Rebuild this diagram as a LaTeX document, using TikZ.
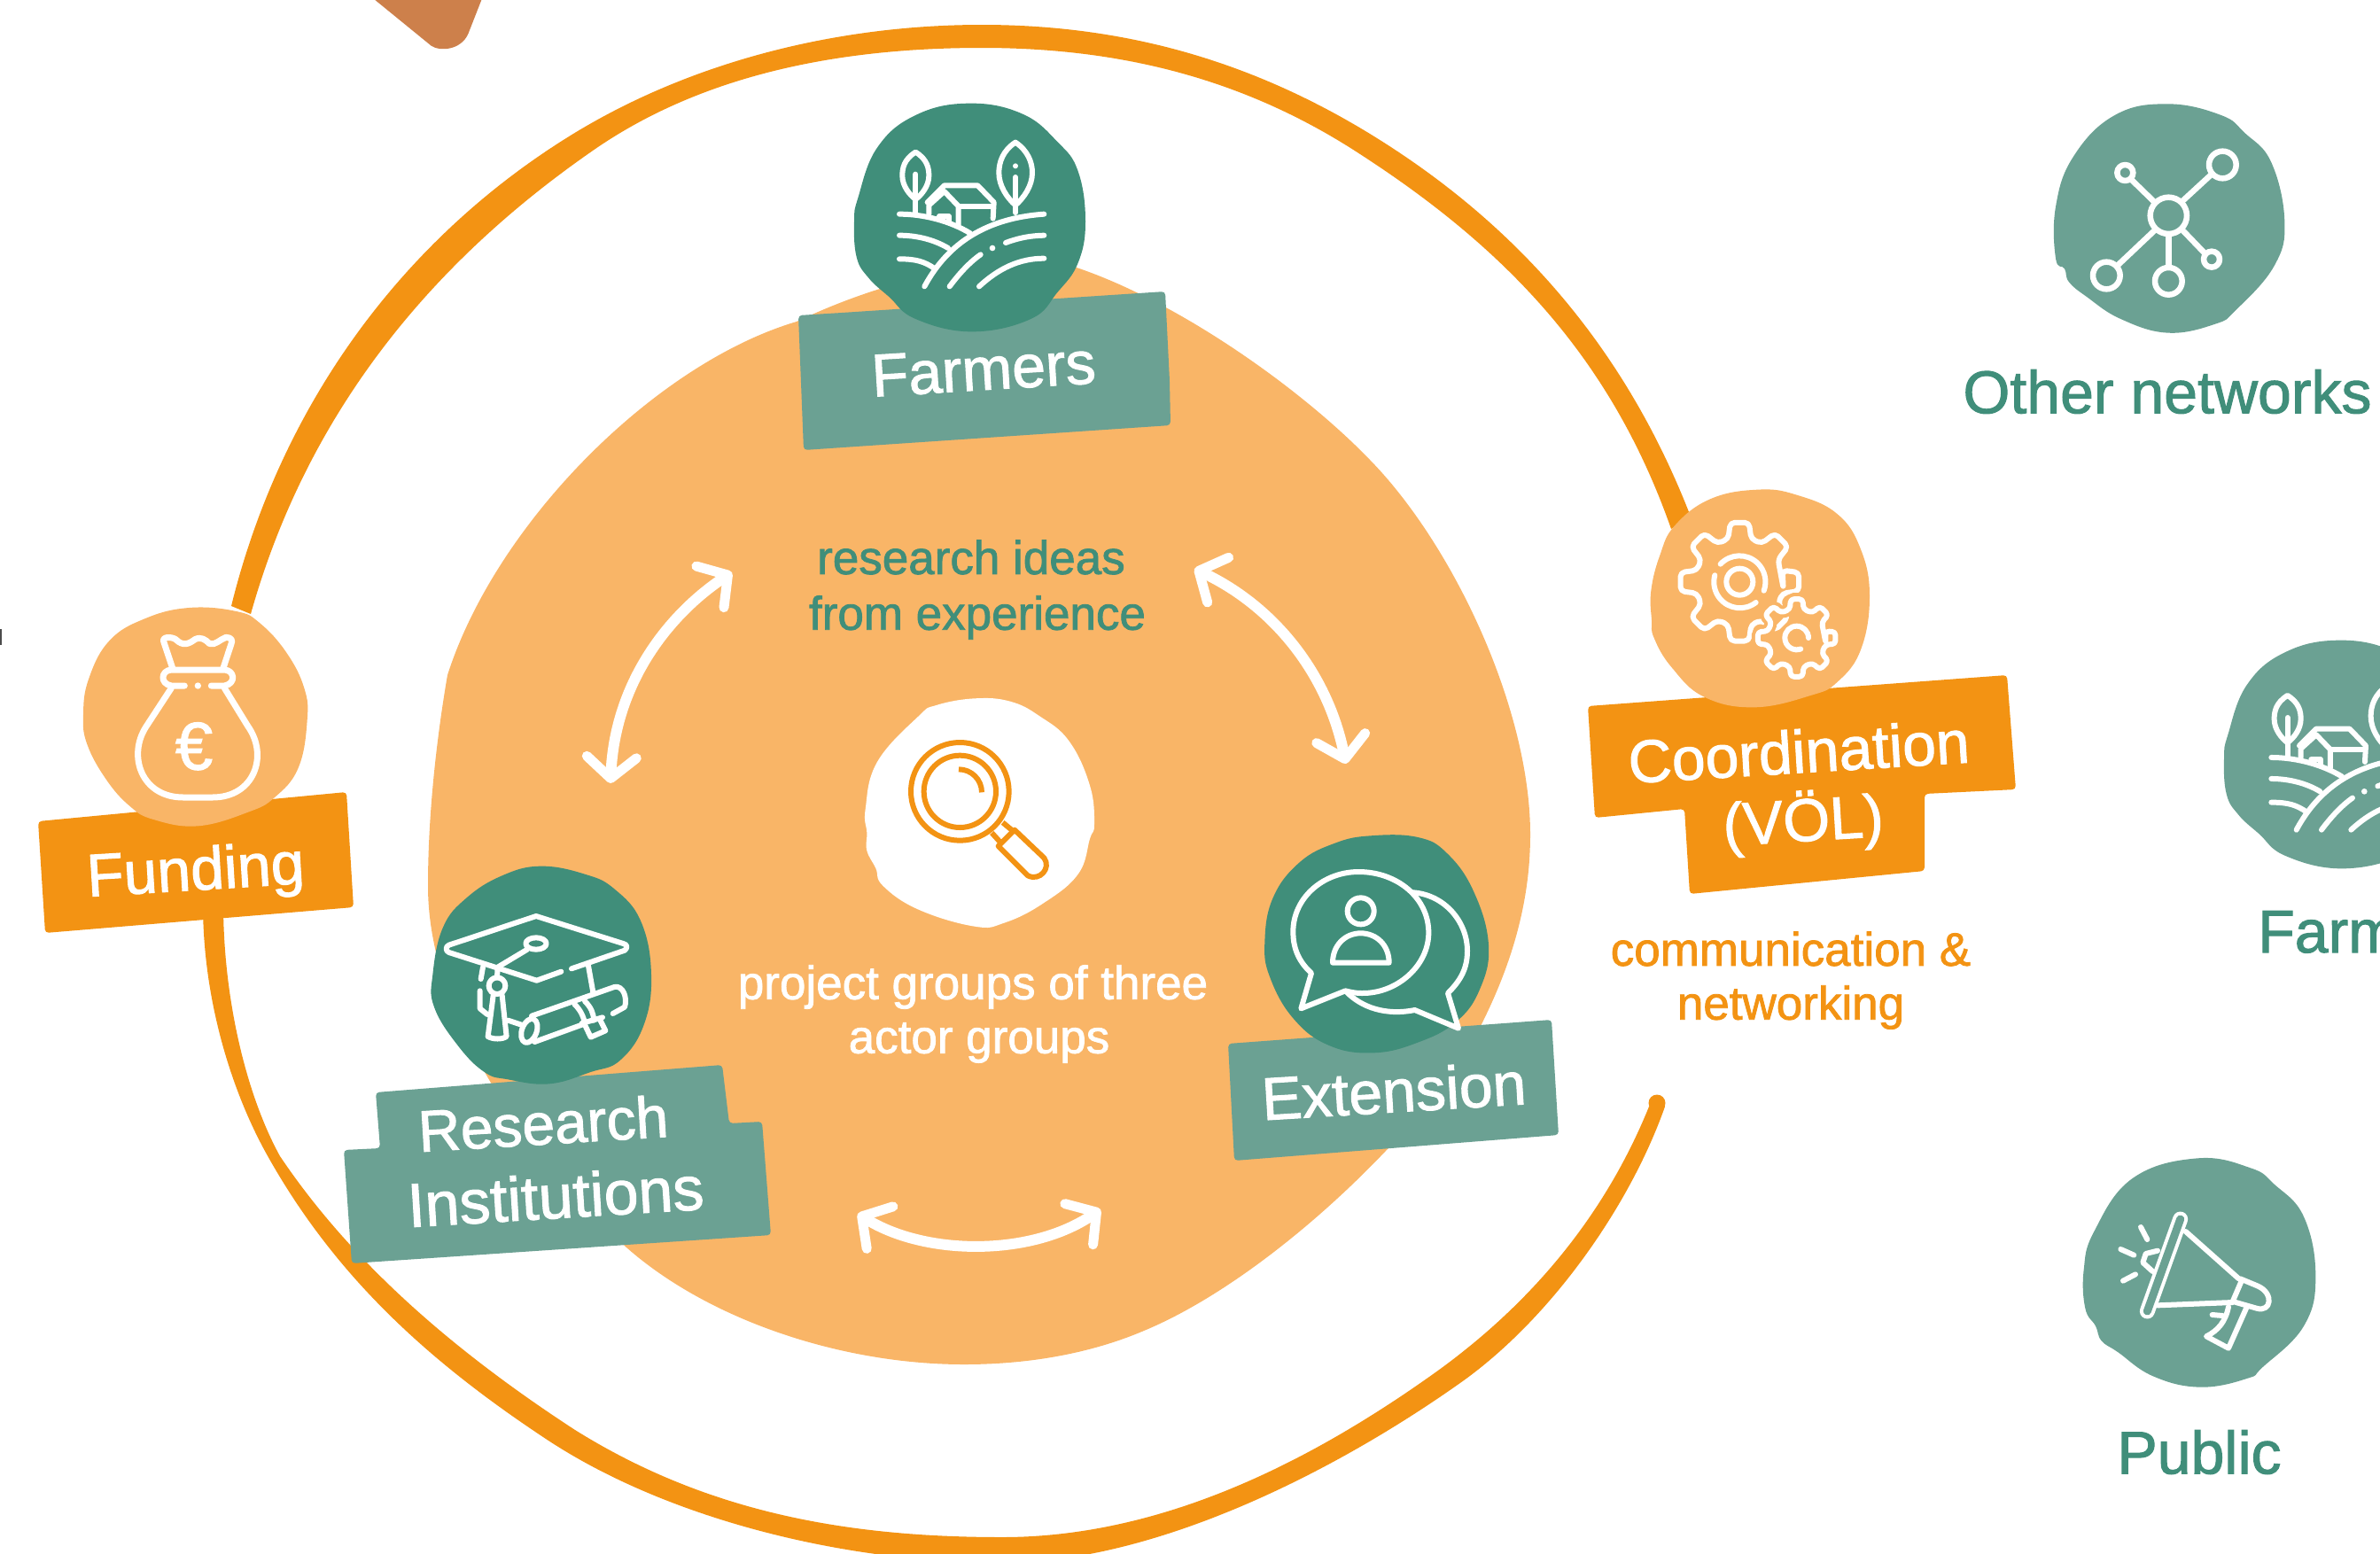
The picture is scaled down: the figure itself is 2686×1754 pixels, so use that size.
\documentclass[tikz,border=0pt]{standalone}
\usepackage{fontspec}
\setmainfont[FakeBold=1.5]{Liberation Sans}
\usetikzlibrary{arrows.meta}
\definecolor{dgreen}{HTML}{408E7A}
\definecolor{lgreen}{HTML}{6BA193}
\definecolor{orng}{HTML}{F39313}
\definecolor{lorng}{HTML}{F9B567}
\definecolor{copper}{HTML}{CD804B}
\tikzset{
  zoomat/.style 2 args={xshift=#1pt,yshift=-#2pt,x=0.33333pt,y=-0.33333pt},
  iconline/.style={draw=white,line width=6pt,line cap=round,line join=round,fill=none},
  lab/.style={text=white,font=\fontsize{68}{70}\selectfont,inner sep=0pt,rotate=3.5},
  captext/.style={font=\fontsize{53}{56}\selectfont,inner sep=0pt},
  outertext/.style={text=dgreen,font=\fontsize{68}{72}\selectfont,inner sep=0pt},
  twoway/.style={draw=white,line width=12pt,line cap=round,
    {Straight Barb[length=24pt,width=56pt,line width=11pt,round]}-{Straight Barb[length=24pt,width=56pt,line width=11pt,round]}},
  tagbox/.style={rounded corners=4pt}
}
\newcommand{\blobshape}[2]{\fill[#1] plot[smooth cycle,tension=0.7] coordinates {#2};}
\newcommand{\farmblob}[1]{\blobshape{#1}{(580,80)(760,115)(880,210)(950,310)(975,480)(950,620)(880,720)(790,810)(590,853)(400,810)(310,735)(240,670)(200,600)(192,480)(205,400)(270,230)(400,120)}}
\newcommand{\farmicon}{%
  \draw[iconline] (400,245) .. controls (360,270) and (355,300) .. (355,325) .. controls (355,360) and (380,390) .. (400,405) .. controls (420,390) and (445,360) .. (445,325) .. controls (445,300) and (440,270) .. (400,245) -- cycle;
  \draw[iconline] (400,320) -- (400,450);
  \draw[iconline] (738,212) .. controls (695,240) and (682,280) .. (682,315) .. controls (682,360) and (710,400) .. (738,425) .. controls (766,400) and (795,360) .. (795,315) .. controls (795,280) and (780,240) .. (738,212) -- cycle;
  \draw[iconline] (738,330) -- (738,450);
  \fill[white] (738,292) circle (9);
  \draw[iconline] (345,455) .. controls (430,455) and (520,480) .. (585,520);
  \draw[iconline] (430,700) .. controls (500,570) and (620,470) .. (835,455);
  \draw[iconline] (345,527) .. controls (400,527) and (460,540) .. (510,570);
  \draw[iconline] (345,607) .. controls (400,607) and (430,615) .. (465,640);
  \draw[iconline] (705,552) .. controls (750,535) and (790,528) .. (835,527);
  \draw[iconline] (615,700) .. controls (680,640) and (750,605) .. (835,605);
  \draw[iconline] (515,700) .. controls (545,660) and (580,620) .. (620,592);
  \fill[white] (660,570) circle (10);
  \draw[iconline] (440,415) -- (497,358) -- (610,358) -- (665,415) -- (662,470);
  \draw[iconline] (445,455) -- (445,425) -- (497,378) -- (545,428) -- (545,490);
  \draw[iconline] (545,428) -- (660,428);
  \draw[iconline] (480,462) -- (512,462) -- (512,482);
}
\begin{document}
\begin{tikzpicture}[x=1pt,y=-1pt]
\useasboundingbox (0,0) rectangle (2686,1754);
\clip (0,0) rectangle (2686,1754);
% copper corner
\begin{scope}[zoomat={380}{0}]
\fill[copper] (130,0) -- (320,155) .. controls (350,175) and (420,170) .. (445,115) -- (490,0) -- cycle;
\end{scope}
\fill[black!70] (0,710) rectangle (1.5,728);
% central orange shape
\fill[lorng] (1212,301) .. controls (1330,340) and (1470,440) .. (1546,519)
 .. controls (1640,615) and (1727,800) .. (1727,942)
 .. controls (1727,1020) and (1705,1090) .. (1672,1156)
 .. controls (1620,1260) and (1440,1440) .. (1291,1502)
 .. controls (1230,1528) and (1160,1540) .. (1088,1540)
 .. controls (950,1540) and (800,1490) .. (707,1408)
 .. controls (600,1310) and (483,1150) .. (483,1000)
 .. controls (483,910) and (495,820) .. (505,762)
 .. controls (560,590) and (740,410) .. (899,363)
 .. controls (1000,315) and (1110,290) .. (1212,301) -- cycle;
% ring, upper part
\fill[orng] (261,684) .. controls (316,461) and (451,271) .. (647,151)
 .. controls (783,68) and (948,28) .. (1108,28)
 .. controls (1268,28) and (1410,68) .. (1546,151)
 .. controls (1716,255) and (1836,397) .. (1908,583)
 -- (1886,597)
 .. controls (1820,409) and (1705,284) .. (1535,174)
 .. controls (1405,89) and (1265,54) .. (1108,54)
 .. controls (950,54) and (794,83) .. (669,170)
 .. controls (480,301) and (345,472) .. (283,693) -- cycle;
% ring, lower part
\fill[orng] (1861,1249)
 .. controls (1810,1375) and (1724,1476) .. (1613,1554)
 .. controls (1470,1655) and (1306,1735) .. (1131,1735)
 .. controls (956,1735) and (798,1707) .. (649,1614)
 .. controls (520,1530) and (400,1430) .. (316,1305)
 .. controls (279,1238) and (252,1130) .. (252,1020)
 -- (229,1020)
 .. controls (229,1130) and (262,1232) .. (300,1301)
 .. controls (377,1440) and (483,1536) .. (616,1624)
 .. controls (750,1713) and (950,1764) .. (1131,1764)
 .. controls (1300,1764) and (1500,1665) .. (1645,1563)
 .. controls (1750,1490) and (1840,1360) .. (1879,1249) -- cycle;
\fill[orng] (1870,1245) circle (9.5);
% arrows
\coordinate (a1s) at (689,884); \coordinate (a1e) at (826,646);
\coordinate (a2s) at (1348,642); \coordinate (a2e) at (1519,862);
\coordinate (a3s) at (968,1370); \coordinate (a3e) at (1242,1365);
\draw[twoway] (a1s) .. controls (694,771) and (754,694) .. (a1e);
\draw[twoway] (a2s) .. controls (1439,685) and (1499,762) .. (a2e);
\draw[twoway] (a3s) .. controls (1045,1418) and (1165,1418) .. (a3e);
% tags
\fill[lgreen,tagbox] (901,356) -- (950,353) -- (1315,329) -- (1320,430) -- (1321,480) -- (907,508) -- cycle;
\fill[lgreen,tagbox] (424,1233) -- (815,1202) -- (823,1268) -- (860,1266) -- (870,1394) -- (397,1426) -- (388,1298) -- (429,1296) -- cycle;
\fill[lgreen,tagbox] (1386,1178) -- (1751,1151) -- (1759,1281) -- (1393,1310) -- cycle;
\fill[orng,tagbox] (43,927) -- (391,894) -- (399,1024) -- (51,1053) -- cycle;
\fill[orng,tagbox] (1792,797) -- (2265,762) -- (2275,891) -- (2172,896) -- (2172,983) -- (1907,1009) -- (1901,913) -- (1800,923) -- cycle;
% Farmers
\begin{scope}[zoomat={900}{90}]
\farmblob{dgreen}
\farmicon
\end{scope}
% Research
\begin{scope}[zoomat={460}{960}]
\blobshape{dgreen}{(450,53)(600,80)(700,130)(790,240)(825,420)(800,590)(720,710)(620,750)(480,790)(340,775)(260,750)(170,660)(90,530)(85,420)(120,260)(200,160)(320,85)}
\draw[iconline] (555,400) -- (735,338) .. controls (745,330) and (745,318) .. (730,315) -- (435,222) -- (140,320) .. controls (128,325) and (128,340) .. (140,345) -- (437,440) -- (520,410);
\draw[iconline] (435,315) ellipse (35 and 20);
\draw[iconline] (405,335) -- (305,395) -- (303,430);
\draw[iconline] (303,458) circle (28);
\draw[iconline] (290,490) -- (272,630) .. controls (290,640) and (320,640) .. (335,630) -- (320,490);
\draw[iconline] (255,395) -- (248,435);
\draw[iconline] (245,475) -- (245,535) -- (270,555);
\draw[iconline] (612,390) -- (628,480);
\draw[iconline] (420,560) -- (700,462) .. controls (730,455) and (745,500) .. (735,530) -- (695,552);
\draw[iconline] (430,648) -- (590,590);
\draw[iconline,rotate around={-20:(412,610)}] (412,610) ellipse (25 and 42);
\draw[iconline] (565,520) .. controls (585,540) and (595,560) .. (600,585);
\draw[iconline] (600,510) .. controls (620,530) and (630,550) .. (630,575);
\draw[iconline] (590,585) -- (660,565);
\draw[iconline] (600,590) -- (620,632) -- (670,610) -- (650,570);
\draw[iconline] (340,575) -- (385,590);
\end{scope}
% Extension
\begin{scope}[zoomat={1400}{920}]
\blobshape{dgreen}{(440,70)(600,75)(700,130)(790,260)(840,440)(810,590)(730,700)(600,770)(450,805)(300,780)(180,690)(100,550)(82,430)(110,280)(200,160)(320,95)}
\draw[iconline] (240,535) .. controls (190,490) and (178,440) .. (178,395) .. controls (178,280) and (280,192) .. (400,192) .. controls (530,192) and (637,280) .. (637,398) .. controls (637,510) and (530,605) .. (410,603) .. controls (390,603) and (375,600) .. (355,595) -- (205,655) -- cycle;
\draw[iconline] (585,262) .. controls (690,270) and (768,360) .. (768,460) .. controls (768,520) and (745,560) .. (702,603) -- (738,722) -- (590,660) .. controls (490,680) and (410,650) .. (360,600);
\draw[iconline] (407,325) circle (45);
\draw[iconline] (312,500) .. controls (312,440) and (355,400) .. (407,400) .. controls (460,400) and (503,440) .. (503,500) -- cycle;
\end{scope}
% Funding
\begin{scope}[zoomat={80}{680}]
\blobshape{lorng}{(400,18)(560,30)(640,70)(730,170)(790,290)(800,400)(770,560)(690,660)(600,710)(430,757)(280,735)(200,690)(120,600)(55,480)(42,380)(60,260)(130,130)(250,55)}
\begin{scope}[iconline/.append style={line width=7pt}]
\draw[iconline] (345,225) -- (315,135) .. controls (305,115) and (340,115) .. (355,125) .. controls (380,150) and (400,140) .. (420,125) .. controls (440,115) and (455,125) .. (470,140) .. controls (490,145) and (505,125) .. (525,118) .. controls (545,118) and (548,130) .. (543,140) -- (515,225);
\draw[iconline] (385,282) -- (340,282) .. controls (300,275) and (305,230) .. (340,228) -- (520,228) .. controls (555,230) and (560,275) .. (520,282) -- (475,282);
\draw[iconline] (340,290) -- (255,420) .. controls (190,520) and (240,660) .. (380,660) -- (480,660) .. controls (620,660) and (670,520) .. (600,420) -- (520,290);
\end{scope}
\fill[white] (430,282) circle (11);
\node[inner sep=0pt,text=white,font=\fontsize{76}{76}\selectfont] (euro) at (417,487) {€};
\end{scope}
% Coordination
\begin{scope}[zoomat={1840}{540}]
\blobshape{lorng}{(430,38)(560,55)(700,120)(780,240)(810,400)(780,580)(700,690)(610,735)(420,775)(250,740)(140,640)(80,540)(72,480)(70,380)(100,260)(150,160)(270,70)}
\begin{scope}[shift={(370,350)}]
\draw[iconline,rounded corners=5pt] (9:150)
 \foreach \t in {0,45,...,315}{
  -- (\t-15:150) -- (\t-9:203) -- (\t+9:203) -- (\t+15:150)
 } -- cycle;
\draw[iconline] (0,0) circle (45);
\draw[iconline] (-65,-60) arc (-137:20:88);
\draw[iconline] (55,70) arc (52:195:88);
\end{scope}
\begin{scope}[shift={(563,540)}]
\draw[lorng,line width=14pt,rounded corners=4pt] (10:100)
 \foreach \t in {0,45,...,315}{
  -- (\t-13:100) -- (\t-9:133) -- (\t+9:133) -- (\t+13:100)
 } -- cycle;
\draw[iconline,rounded corners=4pt] (10:100)
 \foreach \t in {0,45,...,315}{
  -- (\t-13:100) -- (\t-9:133) -- (\t+9:133) -- (\t+13:100)
 } -- cycle;
\draw[iconline] (40,0) arc (0:-290:40);
\end{scope}
\end{scope}
% Magnifier
\begin{scope}[zoomat={960}{780}]
\blobshape{white}{(420,25)(540,35)(640,85)(740,170)(810,320)(825,450)(810,500)(770,620)(650,720)(520,785)(420,797)(230,740)(110,660)(85,600)(55,540)(55,480)(50,400)(90,240)(230,85)(290,48)}
\begin{scope}[orng,line width=6pt]
\draw (370,340) circle (166);
\draw (370,340) circle (122);
\draw (366,265) arc (-90:0:78);
\draw (515,445) -- (545,470);
\draw (478,480) -- (505,510);
\draw[line join=round] (555,470) -- (655,565) .. controls (680,600) and (640,645) .. (600,625) -- (500,525) -- cycle;
\end{scope}
\end{scope}
% Networks
\begin{scope}[zoomat={2320}{110}]
\blobshape{lgreen}{(380,22)(560,60)(640,120)(730,220)(775,420)(740,570)(610,720)(540,767)(380,797)(220,750)(105,675)(45,625)(30,580)(0,545)(0,370)(60,200)(200,60)}
\begin{scope}[iconline/.append style={line width=6.5pt}]
\draw[iconline] (382,400) circle (62);
\draw[iconline] (565,228) circle (46);
\draw[iconline] (235,255) circle (27);
\draw[iconline] (172,603) circle (46);
\draw[iconline] (382,622) circle (46);
\draw[iconline] (528,548) circle (27);
\draw[iconline] (430,350) -- (530,258);
\draw[iconline] (332,352) -- (256,278);
\draw[iconline] (335,450) -- (208,570);
\draw[iconline] (382,465) -- (382,575);
\draw[iconline] (432,452) -- (505,528);
\end{scope}
\end{scope}
% second farm
\begin{scope}[zoomat={2446}{696}]
\farmblob{lgreen}
\end{scope}
\begin{scope}[zoomat={2448.3}{703.3}]
\farmicon
\end{scope}
% Public
\begin{scope}[zoomat={2340}{1300}]
\blobshape{lgreen}{(420,22)(600,55)(680,110)(780,220)(820,420)(780,590)(640,730)(590,767)(430,797)(270,760)(150,678)(95,640)(75,590)(40,530)(35,400)(70,270)(200,90)}
\draw[white,line width=17pt,line cap=round] (362,228) -- (250,540);
\draw[lgreen,line width=9pt,line cap=round] (362,228) -- (250,540);
\draw[iconline] (380,270) -- (560,430);
\draw[iconline] (285,520) -- (540,510);
\draw[iconline] (570,435) -- (540,505);
\draw[iconline] (565,430) -- (625,455) .. controls (680,480) and (670,545) .. (620,530) -- (550,510);
\draw[iconline] (585,530) -- (525,665) -- (450,625) .. controls (490,605) and (515,575) .. (525,525);
\draw[iconline] (470,552) -- (505,555);
\draw[iconline] (285,335) -- (245,345) -- (235,375) -- (268,405);
\draw[iconline] (228,255) -- (250,297);
\draw[iconline] (160,330) -- (205,350);
\draw[iconline] (168,437) -- (210,415);
\end{scope}
% text
\node[lab] (tfarmers) at (1110,417) {Farmers};
\node[lab,font=\fontsize{66}{70}\selectfont] (tresearch) at (613,1268) {Research};
\node[lab,font=\fontsize{70}{72}\selectfont] (tinst) at (627,1350) {Institutions};
\node[lab] (text) at (1573,1231) {Extension};
\node[lab] (tfund) at (221,987) {Funding};
\node[lab] (tcoord) at (2030,848) {Coordination};
\node[lab] (tvol) at (2035,928) {(VÖL)};
\node[captext,text=dgreen] (tideas) at (1096,629) {research ideas};
\node[captext,text=dgreen] (texp) at (1103,697) {from experience};
\node[captext,text=white] (tproj) at (1098,1114) {project groups of three};
\node[captext,text=white] (tactor) at (1105,1177) {actor groups};
\node[captext,text=orng] (tcomm) at (2021,1071) {communication \&};
\node[captext,text=orng] (tnet) at (2021,1137) {networking};
\node[outertext] (tother) at (2446,442) {Other networks};
\node[outertext,anchor=base west] (tfarm2) at (2548,1075) {Farmers};
\node[outertext] (tpublic) at (2482,1639) {Public};
\end{tikzpicture}
\end{document}
